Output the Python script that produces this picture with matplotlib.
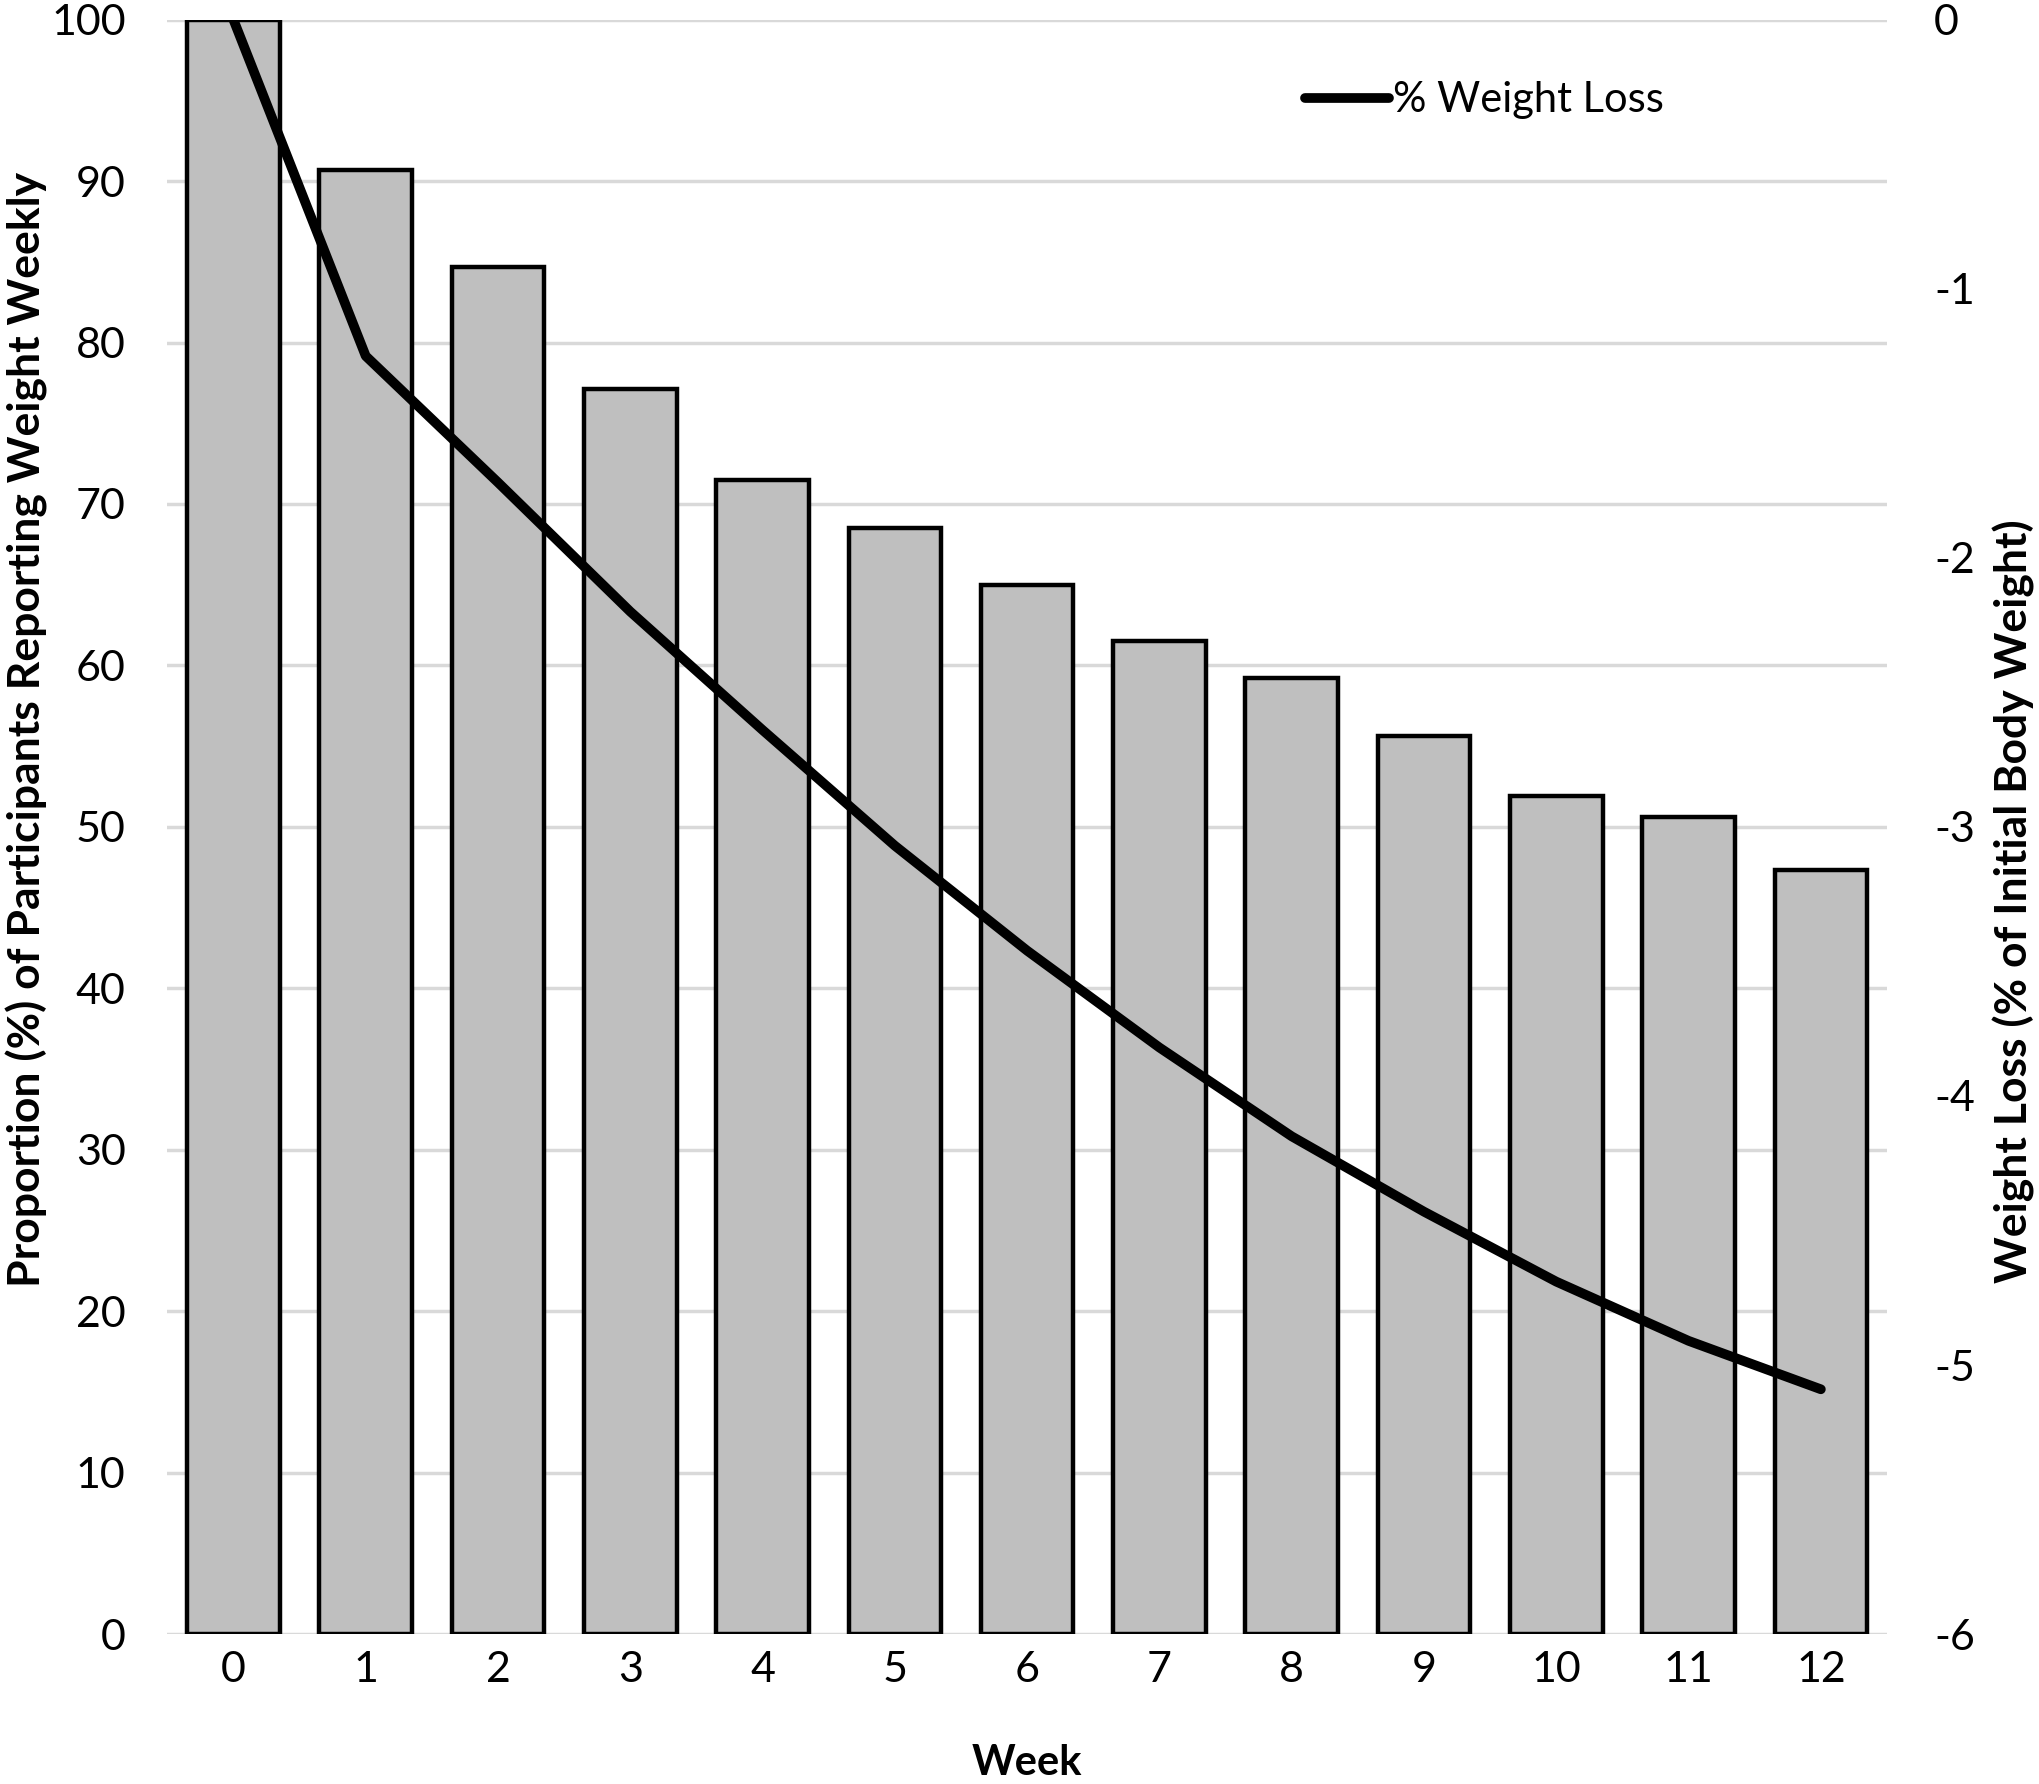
import numpy as np
import matplotlib.pyplot as plt

# weekly reporting proportion (%) and mean weight loss (% of initial body weight)
weeks = [0, 1, 2, 3, 4, 5, 6, 7, 8, 9, 10, 11, 12]
week_labels = [str(w) for w in weeks]
pct_reporting = [100, 90.7, 84.7, 77.1, 71.5, 68.5, 65.0, 61.5, 59.2, 55.6, 51.9, 50.6, 47.3]
pct_weight_loss = [0, -1.25, -1.72, -2.20, -2.64, -3.07, -3.46, -3.82, -4.15, -4.43, -4.69, -4.91, -5.09]

plt.rcParams['font.family'] = ['Lato', 'DejaVu Sans']
plt.rcParams['axes.unicode_minus'] = False

fig = plt.figure(figsize=(20.4, 17.84), dpi=100)
ax = fig.add_axes([0.082, 0.084, 0.843, 0.905])

ax.bar(weeks, pct_reporting, width=0.7, color='#bfbfbf', edgecolor='black', linewidth=3.2, zorder=2)
ax.set_xlim(-0.5, 12.5)
ax.set_ylim(0, 100)
ax.set_yticks(np.arange(0, 101, 10))
ax.set_xticks(weeks)
ax.set_xticklabels(week_labels)
ax.yaxis.grid(True, color='#d9d9d9', linewidth=2.5)
ax.set_axisbelow(True)
for s in ax.spines.values():
    s.set_visible(False)
ax.tick_params(length=0, labelsize=31)
ax.tick_params(axis='x', pad=12)
ax.tick_params(axis='y', pad=30)
ax.set_xlabel('Week', fontsize=30, fontweight='bold')
ax.xaxis.set_label_coords(0.5, -0.068)

ax2 = ax.twinx()
ax2.plot(weeks, pct_weight_loss, color='black', linewidth=7, solid_capstyle='round',
         label='% Weight Loss', zorder=3)
ax2.set_ylim(-6, 0)
ax2.set_yticks(np.arange(-6, 1, 1))
for s in ax2.spines.values():
    s.set_visible(False)
ax2.tick_params(length=0, labelsize=31, pad=34)

# axis titles placed like the original (Excel-style offsets)
fig.text(0.013, 0.591, 'Proportion (%) of Participants Reporting Weight Weekly', rotation=90,
         ha='center', va='center', fontsize=32, fontweight='bold')
fig.text(0.987, 0.495, 'Weight Loss (% of Initial Body Weight)', rotation=90,
         ha='center', va='center', fontsize=32, fontweight='bold')

leg = ax2.legend(loc='upper left', bbox_to_anchor=(0.64, 0.985), frameon=False, fontsize=30,
                 handlelength=2.0, handletextpad=0.1)

fig.savefig('out.png', dpi=100)
